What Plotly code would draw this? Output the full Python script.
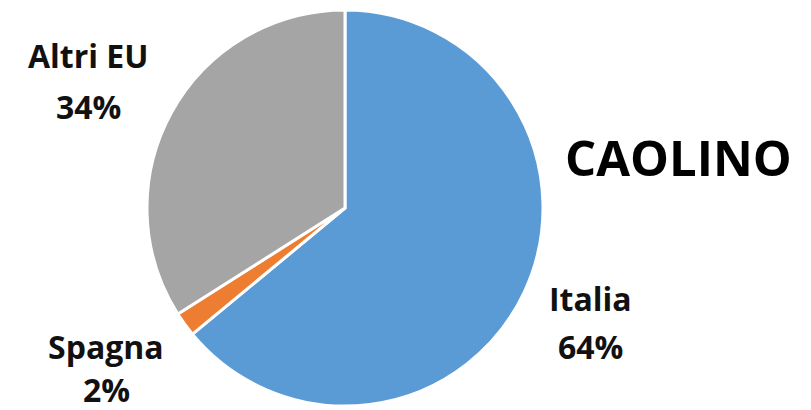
import plotly.graph_objects as go

categories = ["Italia", "Spagna", "Altri EU"]
values = [64, 2, 34]
colors = ["#5B9BD5", "#ED7D31", "#A5A5A5"]
title_text = "CAOLINO"

W, H = 811, 410
cx, cy, r = 345, 208, 198

fig = go.Figure(go.Pie(
    labels=categories,
    values=values,
    sort=False,
    direction="clockwise",
    rotation=0,
    marker=dict(colors=colors, line=dict(color="white", width=3)),
    textinfo="none",
    hoverinfo="label+percent",
    domain=dict(x=[(cx - r) / W, (cx + r) / W], y=[(H - cy - r) / H, (H - cy + r) / H]),
    showlegend=False,
))

# label positions (pixel centers from top-left): name line and percent line
label_pos = {
    "Italia": ((590, 298), (590, 346)),
    "Spagna": ((106, 346), (106, 389)),
    "Altri EU": ((88, 55), (88, 106)),
}
font_lbl = dict(family="Open Sans", size=32, color="#111111")
annotations = []
for cat, val in zip(categories, values):
    (x1, y1), (x2, y2) = label_pos[cat]
    annotations.append(dict(x=x1 / W, y=1 - y1 / H, xref="paper", yref="paper",
                            text="<b>%s</b>" % cat, showarrow=False, font=font_lbl,
                            xanchor="center", yanchor="middle"))
    annotations.append(dict(x=x2 / W, y=1 - y2 / H, xref="paper", yref="paper",
                            text="<b>%d%%</b>" % val, showarrow=False, font=font_lbl,
                            xanchor="center", yanchor="middle"))
annotations.append(dict(x=678 / W, y=1 - 157 / H, xref="paper", yref="paper",
                        text="<b>%s</b>" % title_text, showarrow=False,
                        font=dict(family="Open Sans", size=49, color="#000000"),
                        xanchor="center", yanchor="middle"))

fig.update_layout(
    width=W, height=H,
    margin=dict(l=0, r=0, t=0, b=0),
    paper_bgcolor="white", plot_bgcolor="white",
    annotations=annotations,
)
fig.write_html("out.html")
